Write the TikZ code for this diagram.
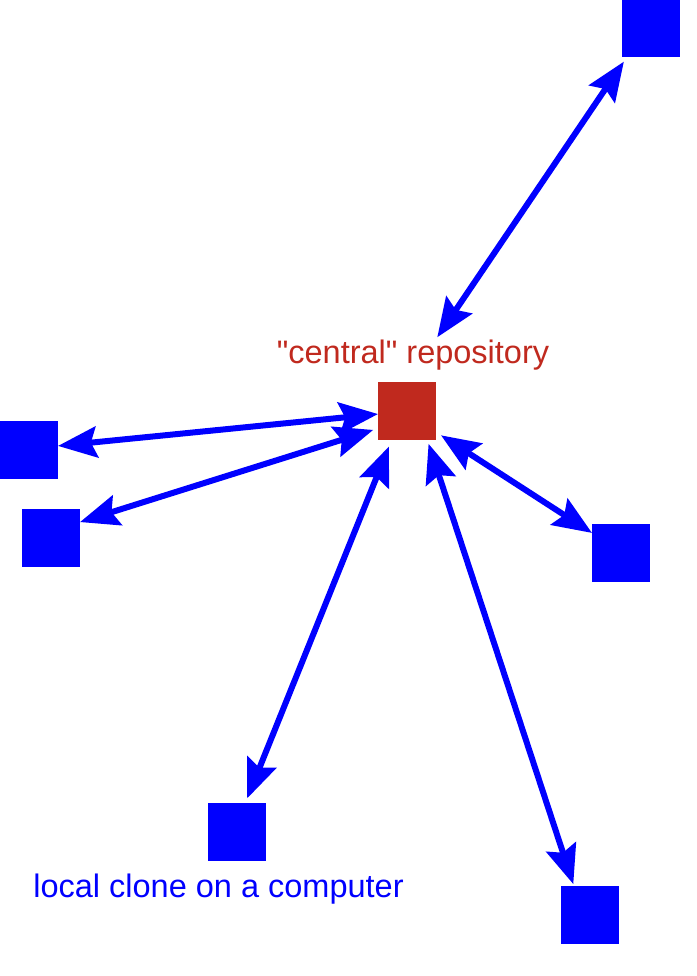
\documentclass[tikz,border=0pt]{standalone}
\usepackage{fontspec}
\setmainfont{Liberation Sans}
\usepackage{xcolor}
\usetikzlibrary{arrows.meta}
\definecolor{repored}{RGB}{192,41,30}

\begin{document}
\begin{tikzpicture}[x=1pt,y=-1pt,every node/.style={inner sep=0pt,outer sep=0pt},
  clone/.style={fill=blue,minimum size=58pt},
  hub/.style={fill=repored,minimum size=58pt},
  tag/.style={anchor=base,font=\fontsize{32.5}{39}\selectfont},
  link/.style={blue,line width=6pt,{Stealth[length=39pt,width=31pt,inset=6pt]}-{Stealth[length=39pt,width=31pt,inset=6pt]}}]

  \useasboundingbox (0,0) rectangle (696,976);

  % central repository
  \node[hub] (repo) at (407,411) {};
  \node[tag,text=repored] (repolabel) at (413,363) {\textquotedbl central\textquotedbl{} repository};

  % clones
  \node[clone] (top) at (651,28.5) {};
  \node[clone] (left) at (29,450) {};
  \node[clone] (lowleft) at (51,537.5) {};
  \node[clone] (right) at (621,552.5) {};
  \node[clone] (local) at (237,832) {};
  \node[clone] (lowright) at (590,915) {};
  \node[tag,text=blue] (locallabel) at (218.5,897) {local clone on a computer};

  %links
  \draw[link,shorten <=54pt,shorten >=5pt] (repo.north) -- (top.230);
  \draw[link] (repo.186) -- (left.8);
  \draw[link,shorten <=5pt] (repo.211) -- (lowleft.28);
  \draw[link,shorten <=6pt] (repo.324) -- (right.146.4);
  \draw[link,shorten <=7pt,shorten >=5pt] (repo.242) -- (local.74.6);
  \draw[link,shorten <=4pt,shorten >=2pt] (repo.305.5) -- (lowright.119.3);

\end{tikzpicture}
\end{document}
